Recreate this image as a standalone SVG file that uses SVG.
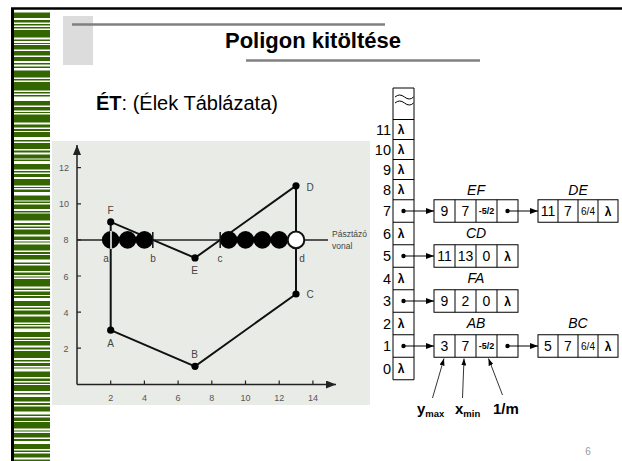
<svg xmlns="http://www.w3.org/2000/svg" width="622" height="461" viewBox="0 0 622 461">
<defs>
<style>
 text{font-family:"Liberation Sans",Arial,sans-serif}
 .ax{font-size:9px;fill:#555;text-anchor:middle}
 .pt{font-size:10px;fill:#444;text-anchor:middle}
 .cell{fill:#fff;stroke:#000;stroke-width:1}
 .num{font-size:14px;text-anchor:middle;fill:#000}
 .frac{font-size:9px;text-anchor:middle;font-weight:bold}
 .frac2{font-size:10px;text-anchor:middle}
 .lam{font-size:12px;font-weight:bold;text-anchor:middle}
 .row{font-size:14.5px;text-anchor:end}
 .lbl{font-size:14px;font-style:italic;text-anchor:middle}
 .edge{stroke:#111;stroke-width:2;fill:none}
 .link{stroke:#000;stroke-width:1;marker-end:url(#ah)}
 .note{stroke:#000;stroke-width:0.8;marker-end:url(#ah2)}
 .dot{fill:#000}
</style>
<marker id="ah" viewBox="0 0 8 6" refX="8" refY="3" markerWidth="8" markerHeight="6" markerUnits="userSpaceOnUse" orient="auto"><path d="M0,0L8,3L0,6z"/></marker>
<marker id="ah2" viewBox="0 0 7 5" refX="7" refY="2.5" markerWidth="7" markerHeight="5" markerUnits="userSpaceOnUse" orient="auto"><path d="M0,0L7,2.5L0,5z"/></marker>
<marker id="axh" viewBox="0 0 10 8" refX="10" refY="4" markerWidth="10" markerHeight="8" markerUnits="userSpaceOnUse" orient="auto"><path d="M0,0L10,4L0,8z" fill="#222"/></marker>
</defs>

<rect width="622" height="461" fill="#fff"/>

<!-- slide frame: top rule, left rule, green barcode strip -->
<g id="frame">
 <line x1="11" y1="8.5" x2="622" y2="8.5" stroke="#000" stroke-width="2.5"/>
 <line x1="12.5" y1="8" x2="12.5" y2="461" stroke="#000" stroke-width="3"/>
 <line x1="32" y1="12.5" x2="32" y2="461" stroke="#336600" stroke-width="36" stroke-dasharray="5.5 2 2.5 1.5 1.5 1.5 1.5 1.5 7.5 2 1.5 2 1 1 4.5 1.5 4.5 1.5 4 2 1.5 2 1.5 2.5 7 1.5 1.5 1.5 8.5 1.5 1.5 1.5 1.5 4.5 4.5 1.5 3.5 1.5 1 1.5 8 2 3 1.5 2 1 5 3 1.5 1.5 6 1.5 2 2 4 1 1.5 3 5.5 1.5 1.5 1.5 3 2 6.5 1.5 1 1.5 2.5 3.5 5 1 1.5 1.5 4.5 2 1.5 1 7 2.5 2 1.5 1.5 1.5 5 2 3.5 1.5 1 2 6 1.5 2 1 4.5 3 1.5 1.5 5.5 1.5 2.5 1.5 1 1.5 7.5 2 1.5 1.5 3.5 1 2 3 5 1.5 1.5 1.5 4 2 6 1.5 1 1.5 2 3.5 5 1.5 1.5 1 4.5 2 2 1.5 7 2 1.5 1.5 3 1.5 1 3 5.5 1.5 2.5 1.5 1.5 1 6 2 1.5 2.5 4.5 1.5 2 1.5 5 3 1.5 1.5 3.5 1 6.5 2 1 1.5 4.5 1.5 2 3 5 1.5 1.5 1.5 4 2 1.5 1.5"/>
</g>

<!-- title block -->
<g id="title">
 <rect x="63" y="16" width="30" height="49" fill="#dcdcdc"/>
 <line x1="72" y1="24.5" x2="385" y2="24.5" stroke="#808080" stroke-width="2.5"/>
 <line x1="246" y1="60.5" x2="480" y2="60.5" stroke="#808080" stroke-width="2.5"/>
 <text x="313" y="48" font-size="22" font-weight="bold" text-anchor="middle">Poligon kitöltése</text>
</g>

<text x="96" y="110" font-size="20"><tspan font-weight="bold">ÉT</tspan>: (Élek Táblázata)</text>

<!-- scan-line fill plot -->
<g id="plot">
 <rect x="52" y="141" width="318" height="264" fill="#e9ece6"/>
 <line x1="77" y1="384.5" x2="77" y2="145" stroke="#222" stroke-width="1.5" marker-end="url(#axh)"/>
 <line x1="77" y1="384.5" x2="336" y2="384.5" stroke="#222" stroke-width="1.5" marker-end="url(#axh)"/>
 <g stroke="#222" stroke-width="1.2">
  <path d="M110.7,380.5v4M144.4,380.5v4M178.1,380.5v4M211.8,380.5v4M245.5,380.5v4M279.2,380.5v4M312.9,380.5v4"/>
  <path d="M77,348.2h4M77,312.1h4M77,276h4M77,239.9h4M77,203.8h4M77,167.7h4"/>
 </g>
 <g class="ax">
  <text x="110.7" y="401">2</text><text x="144.4" y="401">4</text><text x="178.1" y="401">6</text>
  <text x="211.8" y="401">8</text><text x="245.5" y="401">10</text><text x="279.2" y="401">12</text><text x="312.9" y="401">14</text>
  <text x="66" y="351.5">2</text><text x="66" y="315.5">4</text><text x="66" y="279.5">6</text>
  <text x="66" y="243.3">8</text><text x="64" y="207.2">10</text><text x="64" y="171">12</text>
 </g>
 <!-- scan line -->
 <line x1="77" y1="239.9" x2="328" y2="239.9" stroke="#222" stroke-width="1.5"/>
 <text x="332" y="237" font-size="8.5" fill="#444">Pásztázó</text>
 <text x="332" y="249" font-size="8.5" fill="#444">vonal</text>
 <!-- polygon ABCDEF -->
 <polygon class="edge" points="110.7,330.2 195,366.3 296,294 296,185.8 195,257.9 110.7,221.9"/>
 <!-- filled pixels on the scan line -->
 <g fill="#000">
  <circle cx="110.7" cy="239.9" r="8.8"/><circle cx="127.6" cy="239.9" r="8.8"/><circle cx="144.4" cy="239.9" r="8.8"/>
  <circle cx="228.7" cy="239.9" r="8.8"/><circle cx="245.5" cy="239.9" r="8.8"/><circle cx="262.4" cy="239.9" r="8.8"/><circle cx="279.2" cy="239.9" r="8.8"/>
 </g>
 <line x1="111" y1="231" x2="111" y2="249" stroke="#fff" stroke-width="1.5"/>
 <circle cx="296" cy="239.9" r="8.3" fill="#fff" stroke="#111" stroke-width="2"/>
 <path d="M152.8,232v16M220.2,232v16" stroke="#111" stroke-width="1.5"/>
 <!-- vertices -->
 <g fill="#000">
  <circle cx="110.7" cy="330.2" r="3.6"/><circle cx="195" cy="366.3" r="3.6"/><circle cx="296" cy="294" r="3.6"/>
  <circle cx="296" cy="185.8" r="3.6"/><circle cx="195" cy="257.9" r="3.6"/><circle cx="110.7" cy="221.9" r="3.6"/>
 </g>
 <g class="pt">
  <text x="110.5" y="213.5">F</text><text x="110.5" y="347">A</text><text x="194.5" y="358">B</text>
  <text x="310" y="298">C</text><text x="310" y="191">D</text><text x="194.5" y="273.5">E</text>
  <text x="106" y="261.5">a</text><text x="153" y="261.5">b</text><text x="220" y="261.5">c</text><text x="302" y="261.5">d</text>
 </g>
</g>

<!-- edge table column: rows 11..8 are 20px tall, rows 7..0 are 22.5px tall -->
<g id="et-column">
 <path d="M393,88V379.75H414V88Z" fill="#fff" stroke="#000"/>
 <path d="M393,119.5h21M393,139.5h21M393,159.5h21M393,179.5h21M393,199.75h21M393,222.25h21M393,244.75h21M393,267.25h21M393,289.75h21M393,312.25h21M393,334.75h21M393,357.25h21" stroke="#000"/>
 <path d="M395,97q4.5,-4 9.5,0t9,0M395,103q4.5,-4 9.5,0t9,0" fill="none" stroke="#000" stroke-width="1"/>
 <g class="row">
  <text x="391" y="134.5">11</text><text x="391" y="154.5">10</text><text x="391" y="174.5">9</text><text x="391" y="194.7">8</text>
  <text x="391" y="216.2">7</text><text x="391" y="238.7">6</text><text x="391" y="261.2">5</text><text x="391" y="283.7">4</text>
  <text x="391" y="306.2">3</text><text x="391" y="328.7">2</text><text x="391" y="351.2">1</text><text x="391" y="373.7">0</text>
 </g>
 <g class="lam">
  <text x="401" y="133.5">λ</text><text x="401" y="153.5">λ</text><text x="401" y="173.5">λ</text><text x="401" y="193.7">λ</text>
  <text x="401" y="237.7">λ</text><text x="401" y="282.7">λ</text><text x="401" y="327.7">λ</text><text x="401" y="372.7">λ</text>
 </g>
</g>

<!-- edge records -->
<g id="EF">
 <text class="lbl" x="476" y="195">EF</text>
 <rect class="cell" x="434" y="199.75" width="84" height="22.5"/>
 <path d="M455,199.75v22.5M476,199.75v22.5M497,199.75v22.5" stroke="#000"/>
 <text class="num" x="444.5" y="216.2">9</text><text class="num" x="465.5" y="216.2">7</text><text class="frac" x="486.5" y="214.2">-5/2</text>
</g>
<g id="DE">
 <text class="lbl" x="578" y="195">DE</text>
 <rect class="cell" x="538" y="199.75" width="80" height="22.5"/>
 <path d="M558,199.75v22.5M578,199.75v22.5M598,199.75v22.5" stroke="#000"/>
 <text class="num" x="548" y="216.2">11</text><text class="num" x="568" y="216.2">7</text><text class="frac2" x="588" y="214.7">6/4</text><text class="lam" x="608" y="215.7">λ</text>
</g>
<g id="CD">
 <text class="lbl" x="476" y="238">CD</text>
 <rect class="cell" x="434" y="244.75" width="84" height="22.5"/>
 <path d="M455,244.75v22.5M476,244.75v22.5M497,244.75v22.5" stroke="#000"/>
 <text class="num" x="444.5" y="261.2">11</text><text class="num" x="465.5" y="261.2">13</text><text class="num" x="486.5" y="261.2">0</text><text class="lam" x="507.5" y="260.7">λ</text>
</g>
<g id="FA">
 <text class="lbl" x="476" y="283">FA</text>
 <rect class="cell" x="434" y="289.75" width="84" height="22.5"/>
 <path d="M455,289.75v22.5M476,289.75v22.5M497,289.75v22.5" stroke="#000"/>
 <text class="num" x="444.5" y="306.2">9</text><text class="num" x="465.5" y="306.2">2</text><text class="num" x="486.5" y="306.2">0</text><text class="lam" x="507.5" y="305.7">λ</text>
</g>
<g id="AB">
 <text class="lbl" x="476" y="328">AB</text>
 <rect class="cell" x="434" y="334.75" width="84" height="22.5"/>
 <path d="M455,334.75v22.5M476,334.75v22.5M497,334.75v22.5" stroke="#000"/>
 <text class="num" x="444.5" y="351.2">3</text><text class="num" x="465.5" y="351.2">7</text><text class="frac" x="486.5" y="349.2">-5/2</text>
</g>
<g id="BC">
 <text class="lbl" x="578" y="328">BC</text>
 <rect class="cell" x="538" y="334.75" width="80" height="22.5"/>
 <path d="M558,334.75v22.5M578,334.75v22.5M598,334.75v22.5" stroke="#000"/>
 <text class="num" x="548" y="351.2">5</text><text class="num" x="568" y="351.2">7</text><text class="frac2" x="588" y="349.7">6/4</text><text class="lam" x="608" y="350.7">λ</text>
</g>

<!-- pointers -->
<g id="connectors">
 <circle class="dot" cx="403.5" cy="211" r="2.2"/><line class="link" x1="403.5" y1="211" x2="434" y2="211"/>
 <circle class="dot" cx="507.5" cy="211" r="2.2"/><line class="link" x1="507.5" y1="211" x2="538" y2="211"/>
 <circle class="dot" cx="403.5" cy="256" r="2.2"/><line class="link" x1="403.5" y1="256" x2="434" y2="256"/>
 <circle class="dot" cx="403.5" cy="301" r="2.2"/><line class="link" x1="403.5" y1="301" x2="434" y2="301"/>
 <circle class="dot" cx="403.5" cy="346" r="2.2"/><line class="link" x1="403.5" y1="346" x2="434" y2="346"/>
 <circle class="dot" cx="507.5" cy="346" r="2.2"/><line class="link" x1="507.5" y1="346" x2="538" y2="346"/>
 <line class="note" x1="432.5" y1="398" x2="444" y2="358.5"/>
 <line class="note" x1="462.5" y1="398" x2="464" y2="358.5"/>
 <line class="note" x1="502.5" y1="395" x2="488.5" y2="358.5"/>
</g>

<g id="field-names" font-weight="bold">
 <text x="417" y="414" font-size="15">y<tspan font-size="9.5" dy="2.5">max</tspan></text>
 <text x="455" y="414" font-size="15">x<tspan font-size="9.5" dy="2.5">min</tspan></text>
 <text x="493" y="414" font-size="15">1/m</text>
</g>

<text x="588" y="455" font-size="10" fill="#999" text-anchor="middle">6</text>
</svg>
